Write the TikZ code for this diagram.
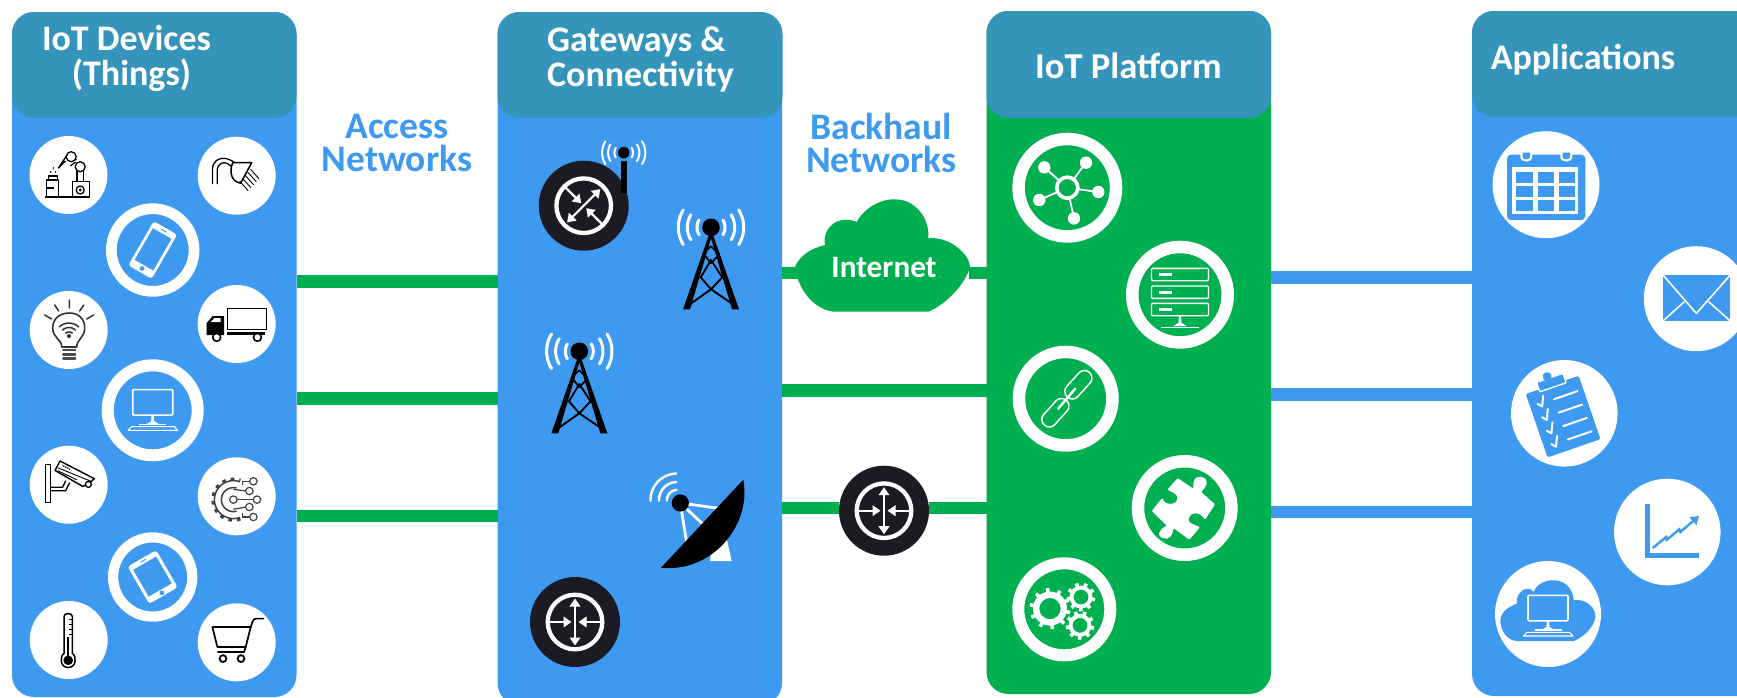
\documentclass[tikz,border=0pt]{standalone}
\usepackage{fontspec}
\setmainfont{Carlito}
\usetikzlibrary{arrows.meta}
\definecolor{panelblue}{HTML}{3D9AF0}
\definecolor{headteal}{HTML}{3594BA}
\definecolor{netgreen}{HTML}{00AF50}
\definecolor{routerdark}{HTML}{1C1B24}
\tikzset{
  panelbox/.style={rectangle,rounded corners=22pt,inner sep=0pt,outer sep=0pt,anchor=north west},
  headbox/.style={panelbox,fill=headteal},
  headtext/.style={text=white,font=\bfseries\fontsize{36}{34.5}\selectfont,inner sep=0pt,anchor=base},
  nettext/.style={text=panelblue,font=\bfseries\fontsize{37.5}{33}\selectfont,align=center,inner sep=0pt},
  glink/.style={netgreen,line width=12.6pt},
  blink/.style={panelblue,line width=12.6pt},
  disc/.style={circle,fill=white,inner sep=0pt,outer sep=0pt},
  ringb/.style={circle,draw=white,inner sep=0pt,outer sep=0pt},
  routerdisc/.style={circle,fill=routerdark,inner sep=0pt,outer sep=0pt,minimum size=90pt},
  ic/.style={black,line width=1.3pt,line join=round},
  wh/.style={white,line width=1.6pt,line join=round},
  bl/.style={panelblue,line width=1.6pt,line join=round},
  wave/.style={white,line cap=round},
  rtarrow/.style={white,line width=2.2pt,-{Triangle[length=8pt,width=10.5pt]}},
  rtarrowb/.style={white,line width=2.2pt,{Triangle[length=8pt,width=10.5pt]}-{Triangle[length=8pt,width=10.5pt]}},
}
% arc about a centre, with the y axis pointing down
\newcommand\wavearc[5]{\draw[wave] plot[domain=#4:#5,samples=14,smooth] ({#1+#3*cos(\x)},{#2+#3*sin(\x)});}
% three radio arcs on each side: x, y, scale, width
\newcommand\wavesat[4]{%
  \begin{scope}[line width=#4pt]
    \foreach \rr in {14,23.7,32.7}{%
      \wavearc{#1}{#2}{\rr*#3}{148}{212}
      \wavearc{#1}{#2}{\rr*#3}{-32}{32}
    }
  \end{scope}}
% router face: rotation
\newcommand\routerface[1]{%
  \begin{scope}[rotate=#1]
    \draw[white,line width=4.3pt] (0,0) circle[radius=27.3pt];
    \draw[rtarrowb] (0,-23.5) -- (0,23.5);
    \draw[rtarrow] (-27,0) -- (-3.5,0);
    \draw[rtarrow] (27,0) -- (3.5,0);
  \end{scope}}
% tower: origin at the ball
\newcommand\towerico{%
  \wavesat{0}{0}{1}{3}
  \fill[black] (0,0) circle[radius=8.8pt];
  \fill[black] (-1.5,6) -- (1.5,6) -- (28,82) -- (21,82) -- cycle;
  \fill[black] (-1.5,6) -- (1.5,6) -- (-21,82) -- (-28,82) -- cycle;
  \draw[black,line width=1.9pt,line join=round] (0,32.7) -- (11.3,50) -- (0,62) -- (-10.3,50) -- cycle;
  \draw[black,line width=1.7pt,line join=round] (-7.7,26) -- (0,19) -- (8.3,27) -- (0,36) -- cycle;
  \draw[black,line width=1.9pt] (0,62) -- (-24,79) (0,62) -- (25,79);
}
% gear: x y bodyR holeR toothR n
\newcommand\gearico[6]{%
  \fill[white,even odd rule] (#1,#2) circle[radius=#3 pt] (#1,#2) circle[radius=#4 pt];
  \foreach \tt in {1,...,#6}{%
    \draw[white,line width=3.6pt] ({#1+(#3-1)*cos(360*\tt/#6+11)},{#2+(#3-1)*sin(360*\tt/#6+11)}) -- ({#1+#5*cos(360*\tt/#6+11)},{#2+#5*sin(360*\tt/#6+11)});
  }}
% desktop computer outline
\newcommand\computerico{%
  \draw[wh,rounded corners=1pt] (-20,-20.7) rectangle (20,4.8);
  \fill[white] (-1.2,5) -- (1.2,5) -- (1.6,11) -- (6,13.5) -- (-6,13.5) -- (-1.6,11) -- cycle;
  \draw[white,line width=1.1pt] (-13.5,14) -- (13.5,14);
  \draw[white,line width=1.1pt,line join=round] (-21,16.3) -- (21.5,16.3) -- (25,20) -- (-24.5,20) -- cycle;
}
\begin{document}
\begin{tikzpicture}[x=1pt,y=-1pt]
\clip[use as bounding box] (0,0) rectangle (1737,697);
\fill[white] (0,0) rectangle (1737,697);

% column panels
\node[panelbox,fill=panelblue,minimum width=284.5pt,minimum height=685pt] (p1) at (12,12) {};
\node[panelbox,fill=panelblue,minimum width=284.5pt,minimum height=693pt] (p2) at (497.5,12) {};
\node[panelbox,fill=netgreen,minimum width=284.5pt,minimum height=683pt] (p3) at (986.5,11) {};
\node[panelbox,fill=panelblue,minimum width=330pt,minimum height=685pt] (p4) at (1472,11) {};

% connector heights
\coordinate (ra) at (0,281.5);
\coordinate (rb) at (0,398.5);
\coordinate (rc) at (0,516);
\coordinate (rd) at (0,273);
\coordinate (re) at (0,390.5);
\coordinate (rf) at (0,508);
\coordinate (rg) at (0,277.5);
\coordinate (rh) at (0,394.7);
\coordinate (ri) at (0,512);

\node[headbox,minimum width=284.5pt,minimum height=106pt] (h1) at (12,12) {};
\node[headbox,minimum width=285pt,minimum height=106pt] (h2) at (497.5,12) {};
\node[headbox,minimum width=284.5pt,minimum height=107pt] (h3) at (986.5,11) {};
\node[headbox,minimum width=330pt,minimum height=106pt] (h4) at (1472,11) {};

% access links
\draw[glink] (p1.east |- ra) -- (p2.west |- ra);
\draw[glink] (p1.east |- rb) -- (p2.west |- rb);
\draw[glink] (p1.east |- rc) -- (p2.west |- rc);

% internet cloud
\fill[netgreen] (825,245) .. controls (822,228) and (838,214) .. (856.7,222) .. controls (866,205) and (885,198) .. (897,199.5) .. controls (915,200) and (930,218) .. (928.3,238.3) .. controls (950,236) and (970,255) .. (970,267) .. controls (965,285) and (945,305) .. (928.3,311.7) -- (833.3,311.7) .. controls (810,308) and (797,285) .. (795,266.7) .. controls (800,255) and (812,248) .. (825,245) -- cycle;
\node[text=white,font=\bfseries\fontsize{31.2}{33}\selectfont,inner sep=0pt,minimum width=170pt] (inet) at (884,267) {Internet};

% routers
\node[routerdisc] (rtm) at (884,510.7) {};
\node[routerdisc] (rtl) at (575,622) {};
\node[routerdisc] (rtw) at (583.7,205.7) {};

% backhaul links
\draw[glink] (p2.east |- rd) -- (inet.west |- rd);
\draw[glink] (inet.east |- rd) -- (p3.west |- rd);
\draw[glink] (p2.east |- re) -- (p3.west |- re);
\draw[glink] (p2.east |- rf) -- (rtm.west |- rf);
\draw[glink] (rtm.east |- rf) -- (p3.west |- rf);

% application links
\draw[blink] (p3.east |- rg) -- (p4.west |- rg);
\draw[blink] (p3.east |- rh) -- (p4.west |- rh);
\draw[blink] (p3.east |- ri) -- (p4.west |- ri);

% titles
\node[headtext,align=center,anchor=center] (t1) at (126.5,58.5) {IoT Devices\\\hspace*{10pt}(Things)};
\node[headtext,align=left,anchor=center] (t2) at (640.5,59.5) {Gateways \&\\Connectivity};
\node[headtext,font=\bfseries\fontsize{36.5}{34.5}\selectfont] (t3) at (1128.5,78) {IoT Platform};
\node[headtext] (t4) at (1583,69) {Applications};
\node[nettext] (n1) at (397,142.5) {Access\\Networks};
\node[nettext] (n2) at (881.2,142.5) {Backhaul\\Networks};

% ---------- devices ----------
\node[disc,minimum size=78pt] (robot) at (68.5,175) {};
\begin{scope}[shift={(robot.center)}]
  \draw[black,line width=1.6pt] (-23.3,22) -- (21.7,22);
  \draw[ic] (4.3,21.7) rectangle (21,6.7);
  \draw[ic] (11.7,15) circle[radius=4pt];
  \fill[black] (11.7,15) circle[radius=1.6pt];
  \draw[ic] (-21.7,21.7) rectangle (-9.7,5);
  \draw[ic] (-20,5) -- (-20,1) -- (-11,1) -- (-11,5);
  \draw[ic] (-21.7,13) -- (-15,13);
  \draw[ic] (8.5,6.7) -- (8.5,-4) (15,6.7) -- (15,-4);
  \draw[ic] (11.7,-8.3) circle[radius=5pt];
  \draw[ic] (2.7,-18.3) circle[radius=5pt];
  \draw[ic] (7,-13) -- (2,-9) (8,-16) -- (7,-15);
  \draw[ic] (-1.5,-20) -- (-10,-7) -- (-3,-14);
  \fill[black] (-13,-3) circle[radius=.8pt] (-18,-3) circle[radius=.8pt] (-15,-7) circle[radius=.8pt];
\end{scope}

\node[disc,minimum size=78pt] (shower) at (236.7,175.7) {};
\begin{scope}[shift={(shower.center)}]
  \draw[ic] (-24.3,8.5) -- (-24.3,-6) .. controls (-24.3,-16) and (-14,-22) .. (-2,-13);
  \draw[ic] (-19.5,8.5) -- (-19.5,-5) .. controls (-19.5,-13) and (-12,-16) .. (-5,-9);
  \draw[ic,fill=white,line width=1.5pt] (-4,-13) -- (15,-13) -- (4,7.5) .. controls (-5,6) and (-8,-3) .. (-4,-13);
  \foreach \dd in {0,...,4}{\draw[black,line width=.9pt] ({3+2.7*\dd},{5.5-3*\dd}) -- ++(8.5,9.5);}
\end{scope}

\node[ringb,minimum size=82.7pt,line width=10.7pt] (phone) at (152.7,250) {};
\begin{scope}[shift={(phone.center)},rotate=-30]
  \fill[white,rounded corners=3pt] (-13.5,-25.5) rectangle (13.5,25.5);
  \fill[panelblue] (-10.7,-19) rectangle (10.7,17.5);
  \fill[panelblue] (0,21.3) circle[radius=2.4pt];
  \draw[panelblue,line width=1pt] (-3,-22.3) -- (3,-22.3);
\end{scope}

\node[disc,minimum size=78pt] (bulb) at (68.7,330) {};
\begin{scope}[shift={(bulb.center)}]
  \draw[black!80,line width=1.5pt,line cap=round] (.7,-30) -- (.7,-22) (-14,-25) -- (-10,-19) (15,-25) -- (11,-19) (-24,-15) -- (-17,-11) (25,-15) -- (18,-11);
  \draw[black!80,line width=1.6pt,line join=round] (-7,17) .. controls (-7,9) and (-16,8) .. (-16,-2) .. controls (-16,-12) and (-8,-17) .. (.7,-17) .. controls (9,-17) and (16,-12) .. (16,-2) .. controls (16,8) and (8,9) .. (8,17) -- cycle;
  \begin{scope}[line width=1.5pt]
    \foreach \rr in {5,9.5,14}{\draw[black!80] plot[domain=225:315,samples=8,smooth] ({.3+\rr*cos(\x)},{7+\rr*sin(\x)});}
  \end{scope}
  \fill[black!80] (.3,6) circle[radius=2pt];
  \foreach \yy in {20,24.5,28.5}{\draw[black!70,line width=2.5pt,line cap=round] (-5.5,\yy) -- (6.5,\yy);}
\end{scope}

\node[disc,minimum size=78pt] (truck) at (236.7,324) {};
\begin{scope}[shift={(truck.center)}]
  \draw[black,line width=1.4pt] (-9.3,-15.7) rectangle (30,5.3);
  \fill[black] (-30,11) -- (-30,-1) -- (-24,-8) -- (-12.7,-8) -- (-12.7,11) -- cycle;
  \fill[white] (-26,-2) -- (-22,-6) -- (-16,-6) -- (-16,-2) -- cycle;
  \fill[black] (-10,7.7) rectangle (28,11);
  \draw[black,line width=1.6pt,fill=white] (-20,13.3) circle[radius=4pt];
  \draw[black,line width=1.6pt,fill=white] (20.7,13.3) circle[radius=4pt];
\end{scope}

\node[ringb,minimum size=90pt,line width=12pt] (desk) at (152.7,410.3) {};
\begin{scope}[shift={(desk.center)}]
  \computerico
\end{scope}

\node[disc,minimum size=78pt] (camera) at (68.7,484.7) {};
\begin{scope}[shift={(camera.center)}]
  \draw[ic] (-23,-20.3) rectangle (-18,17.7);
  \draw[ic] (-18,2.5) -- (-6,2.5) -- (-3,-4) (-18,6) -- (-3,6) -- (1,-2);
  \draw[ic,line width=1.4pt,fill=white] (-8.7,-23.7) -- (25.7,-6) -- (20,-1) -- (14,1.7) -- (-13.7,-14.3) -- cycle;
  \draw[black,line width=.9pt] (-11,-17) -- (22,-3.5) (-11,-14) -- (8,-5);
  \draw[ic,fill=white] (19.7,-.3) circle[radius=3pt];
  \draw[black,line width=.7pt] (-6,-20) -- (-5,-18) (-4,-19) -- (-3,-17) (-2,-18) -- (-1,-16) (0,-17) -- (1,-15);
\end{scope}

\node[disc,minimum size=78pt] (gearnet) at (236.7,496.3) {};
\begin{scope}[shift={(gearnet.center)},black!75]
  \draw[line width=1.5pt] plot[domain=70:290,samples=24,smooth] ({-3.3+19*cos(\x)},{3.3+19*sin(\x)});
  \draw[line width=3.2pt,dash pattern=on 3.6pt off 5pt] plot[domain=70:290,samples=24,smooth] ({-3.3+20.5*cos(\x)},{3.3+20.5*sin(\x)});
  \draw[line width=1.5pt] plot[domain=75:285,samples=20,smooth] ({-3.3+12*cos(\x)},{3.3+12*sin(\x)});
  \draw[line width=1.2pt] (0.4,3.3) -- (16.6,3.3);
  \draw[line width=1.2pt] (-3.3,-7) -- (9,-5.3) (-3.3,13) -- (9,10.7);
  \draw[line width=1.2pt] (6,-11) -- (6,-15) -- (13,-15) (6,17) -- (6,20.7) -- (13,20.7);
  \foreach \cx/\cy in {16.7/-15,12.7/-5.3,20.3/3.3,12.7/10.7,16.7/20.7,-3.3/3.3}{\draw[line width=1.2pt,fill=white] (\cx,\cy) circle[radius=3.7pt];}
\end{scope}

\node[ringb,minimum size=79.2pt,line width=10.2pt] (tablet) at (152.7,577) {};
\begin{scope}[shift={(tablet.center)},rotate=30]
  \fill[white,rounded corners=3pt] (-16.5,-21.5) rectangle (16.5,21.5);
  \fill[panelblue] (-13.3,-16) rectangle (13.3,15);
  \fill[panelblue] (0,18.3) circle[radius=2.3pt];
  \draw[panelblue,line width=1pt] (-3,-18.8) -- (3,-18.8);
\end{scope}

\node[disc,minimum size=78pt] (thermo) at (68.7,640) {};
\begin{scope}[shift={(thermo.center)}]
  \draw[black,line width=1.5pt,fill=white] (-4.7,13.5) -- (-4.7,-23.5) .. controls (-4.7,-27.5) and (3.7,-27.5) .. (3.7,-23.5) -- (3.7,13.5) .. controls (8,16) and (8,27.5) .. (-.5,27.5) .. controls (-9,27.5) and (-9,16) .. (-4.7,13.5) -- cycle;
  \fill[black] (-.5,20.3) circle[radius=4.8pt];
  \draw[black,line width=2.2pt] (-.5,-3) -- (-.5,18);
  \draw[black,line width=1pt] (0,-21) -- (3.7,-21) (0,-16) -- (3.7,-16) (0,-11) -- (3.7,-11) (0,-6) -- (3.7,-6);
\end{scope}

\node[disc,minimum size=78pt] (cart) at (236.7,642.3) {};
\begin{scope}[shift={(cart.center)}]
  \draw[black,line width=1.7pt,line join=round] (-24.3,-15.3) -- (14,-15.3) -- (9,4.7) -- (-19.3,4.7) -- cycle;
  \draw[black,line width=1.7pt,line join=round,line cap=round] (14,-15.3) -- (16,-21) .. controls (16.5,-23) and (18,-23.5) .. (20,-23.7) -- (26.7,-23.7);
  \draw[black,line width=1.7pt,line join=round] (9,4.7) -- (7.3,9.7) -- (-19.3,9.7);
  \draw[black,line width=1.8pt] (-13.7,16.3) circle[radius=3.4pt] (4.3,16.3) circle[radius=3.4pt];
\end{scope}

% ---------- gateways ----------
\begin{scope}[shift={(rtw.center)}]\routerface{-45}\end{scope}
\begin{scope}[shift={(rtl.center)}]\routerface{0}\end{scope}
\begin{scope}[shift={(rtm.center)}]\routerface{0}\end{scope}

% wireless router antenna
\node[circle,fill=black,inner sep=0pt,minimum size=11.6pt] (wball) at (623.7,152.7) {};
\draw[black,line width=6.6pt] (624,161) -- (624,193);
\wavesat{623.7}{152.7}{.66}{2}

\coordinate (tower1) at (711,227.3);
\begin{scope}[shift={(tower1)}]\towerico\end{scope}
\coordinate (tower2) at (579.3,351.3);
\begin{scope}[shift={(tower2)}]\towerico\end{scope}

% satellite dish
\coordinate (dishball) at (680.3,503);
\fill[white] (710,561) -- (731.7,561) -- (727,540) -- (712,545) -- cycle;
\draw[white,line width=2.8pt] (dishball) -- (724,509);
\draw[white,line width=2.8pt] (dishball) -- (706,527);
\draw[white,line width=2.8pt] (dishball) -- (687,545);
\fill[black] (743.3,479.7) .. controls (752,525) and (712,573) .. (661,567.7) -- cycle;
\fill[black] (dishball) circle[radius=8.6pt];
\begin{scope}[line width=2.4pt]
  \foreach \rr in {10,18,26.5}{\wavearc{677}{500}{\rr}{178}{268}}
\end{scope}

% ---------- platform ----------
\node[ringb,minimum size=97.5pt,line width=12.5pt] (hub) at (1067.3,187.7) {};
\begin{scope}[shift={(hub.center)},white]
  \foreach \cx/\cy in {-23/-20.3,18.7/-25,31/4.3,6.7/30.7,-28/12.3}{%
    \draw[line width=1.8pt] (0,0) -- (\cx,\cy);
    \fill (\cx,\cy) circle[radius=6.2pt];}
  \draw[line width=3.6pt,fill=netgreen] (0,0) circle[radius=10.5pt];
\end{scope}

\node[ringb,minimum size=95.5pt,line width=12.5pt] (server) at (1180,294.7) {};
\begin{scope}[shift={(server.center)},white]
  \foreach \yy in {-26.3,-8.7,8.7}{%
    \draw[line width=1.4pt,rounded corners=1pt] (-28.5,\yy) rectangle (28.5,\yy+12.3);
    \fill (-21,\yy+4.5) rectangle (-8,\yy+7.5);}
  \fill (-1,21) -- (1,21) -- (1.5,28) -- (7,31.5) -- (-7,31.5) -- (-1.5,28) -- cycle;
  \draw[line width=1.4pt] (-19,32.5) -- (19,32.5);
\end{scope}

\node[ringb,minimum size=93.5pt,line width=12.5pt] (chain) at (1065.7,398.7) {};
\begin{scope}[shift={(chain.center)},white]
  \draw[line width=1.5pt,rounded corners=7.4pt,shift={(12.7,-14)},rotate=48] (-16.5,-7.5) rectangle (16.5,7.5);
  \draw[line width=1.5pt,rounded corners=7.4pt,shift={(-10.3,14)},rotate=48] (-16.5,-7.5) rectangle (16.5,7.5);
  \draw[line width=2.4pt,line cap=round] (-7.5,10) -- (9.5,-10);
\end{scope}

\node[ringb,minimum size=93.5pt,line width=12.5pt] (puzzle) at (1184.7,508) {};
\begin{scope}[shift={(puzzle.center)}]
  \fill[white,rounded corners=1pt] (-7,-30) -- (8.7,-19.3) .. controls (8,-27) and (10,-32) .. (17,-31) .. controls (25,-28) and (22,-22) .. (16.5,-16) -- (30.3,-3.7) -- (20.3,11.7) .. controls (15,3) and (5,4) .. (4,11) .. controls (4,15) and (10,17) .. (15.3,19) -- (4.7,31.7) -- (-11.3,20) .. controls (-12,28) and (-16,32) .. (-22,30) .. controls (-28,28) and (-26,22) .. (-18,17.5) -- (-33,3) -- (-22.3,-10.3) .. controls (-20,-2) and (-8,-3) .. (-7.5,-10) .. controls (-7.5,-14) and (-13,-16) .. (-17.3,-18.3) -- cycle;
\end{scope}

\node[ringb,minimum size=92pt,line width=12pt] (gears) at (1064.3,609.3) {};
\begin{scope}[shift={(gears.center)}]
  \gearico{-14.3}{-.7}{17}{10.7}{20.5}{10}
  \gearico{16.7}{-12.3}{11.5}{7.5}{14.3}{9}
  \gearico{15.7}{16}{11.5}{7.5}{14.3}{9}
\end{scope}

% ---------- applications ----------
\node[disc,minimum size=107pt] (calendar) at (1546,184.7) {};
\begin{scope}[shift={(calendar.center)}]
  \fill[panelblue,rounded corners=4pt] (-39,-30) rectangle (39.3,35.3);
  \fill[white] (-34,-17.3) rectangle (32,29.3);
  \foreach \xa/\xb in {-30/-13,-8/8.3,13/29}{\foreach \ya/\yb in {-12.3/-1.3,1.3/12.7,15.3/26.3}{\fill[panelblue] (\xa,\ya) rectangle (\xb,\yb);}}
  \foreach \xa in {-19.7,20.3}{%
    \fill[white] (\xa-6,-32) -- (\xa-6,-28) .. controls (\xa-6,-21.5) and (\xa+6,-21.5) .. (\xa+6,-28) -- (\xa+6,-32) -- cycle;
    \fill[panelblue] (\xa-3.7,-32) -- (\xa-3.7,-28) .. controls (\xa-3.7,-24.5) and (\xa+3.7,-24.5) .. (\xa+3.7,-28) -- (\xa+3.7,-32) -- cycle;}
\end{scope}

\node[disc,minimum size=105pt] (mail) at (1696.3,298.7) {};
\begin{scope}[shift={(mail.center)}]
  \fill[panelblue] (-33.3,-23.7) rectangle (34,22.3);
  \draw[wh] (-33.3,-23.7) -- (0,14.7) -- (34,-23.7);
  \draw[wh] (-33.3,22.3) -- (-12,3) (34,22.3) -- (12.3,3);
\end{scope}

\node[disc,minimum size=106.6pt] (tasks) at (1564.3,413.3) {};
\begin{scope}[shift={(tasks.center)}]
  \begin{scope}[shift={(-1.2,3.3)},rotate=19]
    \fill[panelblue,rounded corners=1.5pt] (-28,-33.5) rectangle (28,33.5);
    \draw[white,line width=1.4pt,fill=panelblue,rounded corners=1pt] (-14,-41) rectangle (14,-31);
    \fill[panelblue] (-2,-43) circle[radius=4.5pt];
    \foreach \yy in {-19.4,-5.2,9,23.2}{%
      \draw[white,line width=2pt,line cap=round] (-3,\yy) -- (22,\yy);
      \draw[white,line width=2pt,line cap=round,line join=round] (-20,\yy-1) -- (-16.5,\yy+3) -- (-12,\yy-7);}
  \end{scope}
\end{scope}

\node[disc,minimum size=106.6pt] (chart) at (1667.3,532) {};
\begin{scope}[shift={(chart.center)}]
  \fill[panelblue] (-22.3,-28.3) rectangle (-17.3,25.7);
  \fill[panelblue] (-22.3,21) rectangle (31.7,25.7);
  \draw[panelblue,line width=2.4pt,line join=miter,-{Triangle[length=8pt,width=10pt]}] (-14.7,16) -- (-1,5) -- (-.3,7.7) -- (12,-2.7) -- (13,0) -- (31.7,-16);
\end{scope}

\node[disc,minimum size=106pt] (cloudpc) at (1548,614) {};
\begin{scope}[shift={(cloudpc.center)}]
  \fill[panelblue] (-31,27) .. controls (-42,27) and (-48,14) .. (-47.7,6.3) .. controls (-47,-3) and (-38,-8) .. (-31,-10.3) .. controls (-33,-22) and (-20,-30) .. (-14.3,-22) .. controls (-9,-38) and (24,-40) .. (25.7,-13.7) .. controls (38,-16) and (48,-6) .. (47.3,3) .. controls (46,14) and (35,23) .. (25.7,27) -- cycle;
  \begin{scope}[shift={(0,2)}]\computerico\end{scope}
\end{scope}
\end{tikzpicture}
\end{document}
